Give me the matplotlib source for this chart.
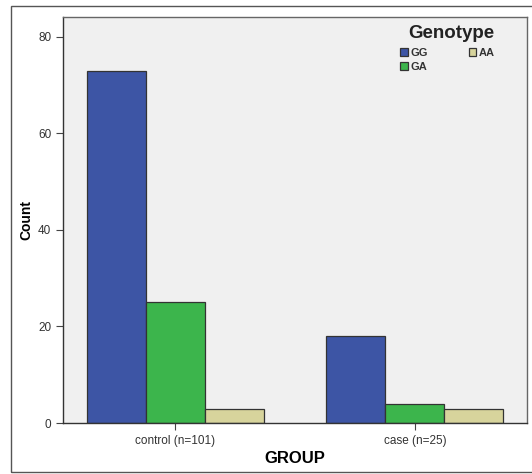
import numpy as np
import matplotlib.pyplot as plt
from matplotlib.patches import Rectangle

plt.rcParams['font.family'] = ['Liberation Sans', 'DejaVu Sans']

groups = ['control (n=101)', 'case (n=25)']
genotypes = ['GG', 'GA', 'AA']
counts = {
    'GG': [73, 18],
    'GA': [25, 4],
    'AA': [3, 3],
}
colors = {'GG': '#3d55a5', 'GA': '#3cb54c', 'AA': '#d7d49c'}

fig = plt.figure(figsize=(5.32, 4.74), dpi=100)
fig.patch.set_facecolor('white')
fig.patches.append(Rectangle((11 / 532, 2 / 474), 1.0, 466 / 474, transform=fig.transFigure,
                             fill=False, edgecolor='#555555', linewidth=1.0))

ax = fig.add_axes([63 / 532, 51 / 474, 464 / 532, 406 / 474])
ax.set_facecolor('#f0f0f0')

x = np.arange(len(groups))
width = 0.246
for i, g in enumerate(genotypes):
    ax.bar(x + (i - 1) * width, counts[g], width, color=colors[g], edgecolor='#333333',
           linewidth=0.9, label=g, zorder=2)

ax.set_xlim(-0.467, 1.467)
ax.set_ylim(0, 84.1)
ax.set_yticks([0, 20, 40, 60, 80])
ax.set_xticks(x)
ax.set_xticklabels(groups)
ax.tick_params(axis='both', labelsize=8.5, labelcolor='#333333', color='#444444', length=5)

for s in ax.spines.values():
    s.set_color('#666666')
    s.set_linewidth(1.0)
ax.spines['left'].set_color('#333333')
ax.spines['bottom'].set_color('#333333')

ax.set_ylabel('Count', fontsize=10, fontweight='bold', labelpad=3)
ax.set_xlabel('GROUP', fontsize=12, fontweight='bold', labelpad=3)

# legend title drawn separately so the gap to the entries can match
fig.text(451 / 532, 1 - 33 / 474, 'Genotype', fontsize=13.5, fontweight='bold',
         color='#222222', ha='center', va='center')
leg = ax.legend(ncol=2, frameon=False, loc='upper left',
                bbox_to_anchor=(400 / 532, 1 - 48 / 474), bbox_transform=fig.transFigure,
                borderpad=0, borderaxespad=0,
                prop={'size': 8, 'weight': 'bold'},
                handlelength=0.7, handleheight=0.7, handletextpad=0.25,
                columnspacing=3.65, labelspacing=0.35)
for t in leg.get_texts():
    t.set_color('#333333')

fig.savefig('out.png', dpi=100)
